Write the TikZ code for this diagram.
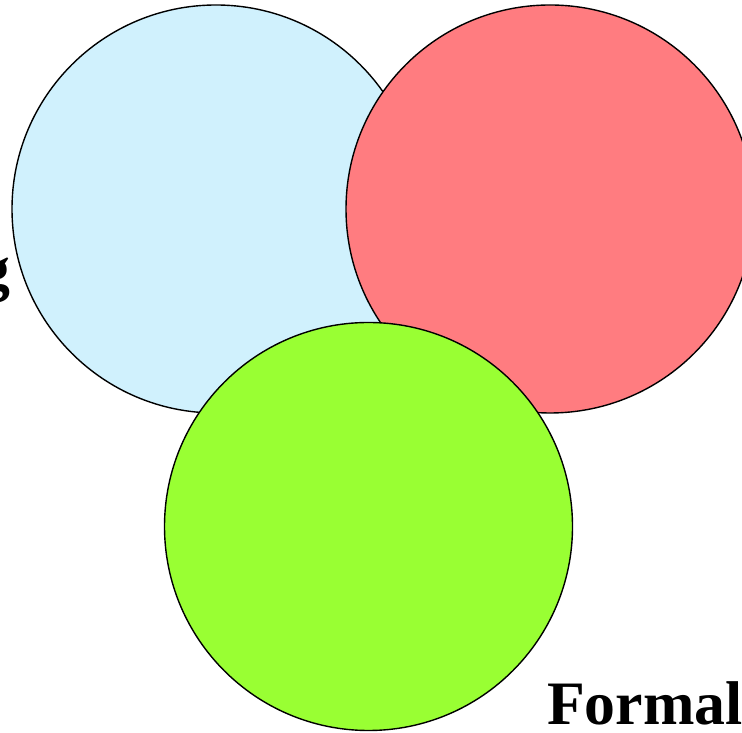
\documentclass[tikz,border=0pt]{standalone}
\usepackage{fontspec}
\setmainfont{Liberation Serif}
\usepackage{xcolor}
\usepackage{tikz}
\usetikzlibrary{positioning}
\definecolor{setblue}{RGB}{208, 241, 253}
\definecolor{setred}{RGB}{255, 124, 128}
\definecolor{setgreen}{RGB}{153, 255, 51}

\begin{document}
\begin{tikzpicture}[x=1bp, y=1bp,
  setcircle/.style={circle, draw=black, line width=1.4bp, inner sep=0pt, minimum size=408bp},
  setlabel/.style={font=\fontsize{62}{74}\selectfont\bfseries, inner sep=0pt}]

\useasboundingbox (0,0) rectangle (742,733);
\clip (0,0) rectangle (742,733);

% Circles (back to front)
\node[setcircle, fill=setblue] at (216,524) (blue) {};
\node[setcircle, fill=setred] at (550,524) (red) {};
\node[setcircle, fill=setgreen] at (368.5,206.5) (green) {};

% Labels
\node[setlabel, anchor=base east] at (11,443) (glabel) {g};
\node[setlabel, anchor=base west] at (547,8) (formal) {Formal};

\end{tikzpicture}
\end{document}
